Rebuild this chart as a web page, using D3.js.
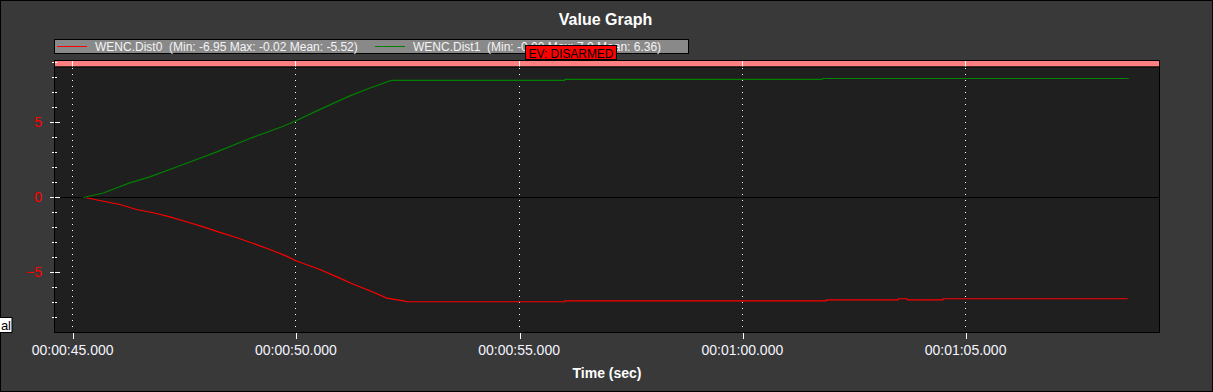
<!DOCTYPE html>
<html>
<head>
<meta charset="utf-8">
<script src="https://cdn.jsdelivr.net/npm/d3@7"></script>
<style>
  body { margin: 0; background: #393939; }
  text { font-family: "Liberation Sans", Arial, sans-serif; }
</style>
</head>
<body>
<div id="chart"></div>
<script>
// data (time in seconds)
const dist0Time = [45.32, 45.7, 46.07, 46.44, 46.82, 47.19, 47.56, 47.94, 48.31, 48.68, 49.06, 49.43, 49.8, 50.0, 50.18, 50.55, 50.93, 51.3, 51.67, 52.05, 52.42, 52.5, 56.03, 56.04, 61.89, 61.9, 63.5, 63.51, 63.7, 63.71, 64.5, 64.51, 68.64];
const dist0Value = [-0.02, -0.25, -0.47, -0.8, -1.02, -1.29, -1.62, -1.96, -2.33, -2.67, -3.07, -3.47, -3.91, -4.2, -4.4, -4.8, -5.29, -5.78, -6.22, -6.71, -6.89, -6.95, -6.95, -6.89, -6.89, -6.82, -6.82, -6.75, -6.75, -6.82, -6.82, -6.75, -6.75];

const dist1Time = [45.25, 45.7, 46.29, 46.74, 47.49, 48.24, 48.98, 49.73, 50.0, 50.48, 51.22, 51.67, 52.12, 52.16, 56.03, 56.04, 61.8, 61.81, 68.67];
const dist1Value = [0.0, 0.3, 0.97, 1.37, 2.2, 3.04, 3.93, 4.75, 5.1, 5.77, 6.77, 7.3, 7.77, 7.8, 7.8, 7.87, 7.87, 7.93, 7.93];

const legendLabels = ["WENC.Dist0  (Min: -6.95 Max: -0.02 Mean: -5.52)", "WENC.Dist1  (Min: -0.00 Max: 7.9 Mean: 6.36)"];
const seriesColors = ["#ff0000", "#008000"];
const xTickValues = [45, 50, 55, 60, 65];
const yMajorTicks = [-5, 0, 5];
const yMinorTicks = [-8, -7, -6, -4, -3, -2, -1, 1, 2, 3, 4, 6, 7, 8, 9];

const W = 1213, H = 392;
const plot = {left: 54.5, top: 60.5, right: 1159.5, bottom: 332.5};

const svg = d3.select("#chart").append("svg")
  .attr("width", W)
  .attr("height", H);

svg.append("rect")
  .attr("x", 0.5).attr("y", 0.5)
  .attr("width", W - 1).attr("height", H - 1)
  .attr("fill", "#393939")
  .attr("stroke", "#000");

const x = d3.scaleLinear().domain([44.605, 69.355]).range([plot.left, plot.right]);
const y = d3.scaleLinear().domain([-9.0, 9.13]).range([plot.bottom, plot.top]);

function fmtTime(s) {
  const h = Math.floor(s / 3600), m = Math.floor((s % 3600) / 60), sec = s % 60;
  const p = (n) => String(n).padStart(2, "0");
  return `${p(h)}:${p(m)}:${sec.toFixed(3).padStart(6, "0")}`;
}

// plot area
svg.append("rect")
  .attr("x", plot.left).attr("y", plot.top)
  .attr("width", plot.right - plot.left).attr("height", plot.bottom - plot.top)
  .attr("fill", "#1f1f1f");

// pink event band
svg.append("rect")
  .attr("x", plot.left).attr("y", plot.top)
  .attr("width", plot.right - plot.left).attr("height", 6)
  .attr("fill", "#ff8080");

// grid lines
const grid = svg.append("g").attr("shape-rendering", "crispEdges");
grid.selectAll(".gdot")
  .data(xTickValues)
  .enter().append("line")
  .attr("x1", d => Math.round(x(d)) + 0.5).attr("x2", d => Math.round(x(d)) + 0.5)
  .attr("y1", plot.top + 7).attr("y2", plot.bottom)
  .attr("stroke", "#fff")
  .attr("stroke-dasharray", "1,5");
grid.selectAll(".gband")
  .data(xTickValues)
  .enter().append("line")
  .attr("x1", d => Math.round(x(d)) + 0.5).attr("x2", d => Math.round(x(d)) + 0.5)
  .attr("y1", plot.top).attr("y2", plot.top + 6)
  .attr("stroke", "#fff");

// zero line
svg.append("line")
  .attr("x1", plot.left).attr("x2", plot.right)
  .attr("y1", Math.round(y(0)) + 0.5).attr("y2", Math.round(y(0)) + 0.5)
  .attr("stroke", "#000");

// series
const line = d3.line()
  .x(d => x(d[0]))
  .y(d => y(d[1]));

const series = [
  d3.zip(dist0Time, dist0Value),
  d3.zip(dist1Time, dist1Value)
];
svg.selectAll(".series")
  .data(series)
  .enter().append("path")
  .attr("class", "series")
  .attr("d", line)
  .attr("fill", "none")
  .attr("stroke", (d, i) => seriesColors[i])
  .attr("stroke-width", 1.2);

// band bottom edge + plot border
svg.append("line")
  .attr("x1", plot.left).attr("x2", plot.right)
  .attr("y1", plot.top + 6.5).attr("y2", plot.top + 6.5)
  .attr("stroke", "#000");
svg.append("rect")
  .attr("x", plot.left).attr("y", plot.top)
  .attr("width", plot.right - plot.left).attr("height", plot.bottom - plot.top)
  .attr("fill", "none")
  .attr("stroke", "#000");

// y axis: major ticks crossing the frame, minor ticks
const yMajor = svg.append("g")
  .attr("transform", `translate(${plot.left + 5.5},0)`)
  .attr("shape-rendering", "crispEdges")
  .call(d3.axisLeft(y).tickValues(yMajorTicks).tickSize(10).tickPadding(8).tickFormat(d3.format("d")));
yMajor.select(".domain").remove();
yMajor.selectAll(".tick").attr("transform", d => `translate(0,${Math.round(y(d)) + 0.5})`);
yMajor.selectAll("line").attr("stroke", "#fff").attr("stroke-width", 1);
yMajor.selectAll("text").attr("fill", "#ff0000").style("font-size", "14px");

const yMinor = svg.append("g")
  .attr("transform", `translate(${plot.left + 2.5},0)`)
  .attr("shape-rendering", "crispEdges")
  .call(d3.axisLeft(y).tickValues(yMinorTicks).tickSize(5).tickFormat(""));
yMinor.select(".domain").remove();
yMinor.selectAll(".tick").attr("transform", d => `translate(0,${Math.round(y(d)) + 0.5})`);
yMinor.selectAll("line").attr("stroke", "#fff").attr("stroke-width", 1);

// redraw the left edge of the plot over the ticks
svg.append("line")
  .attr("x1", plot.left).attr("x2", plot.left)
  .attr("y1", plot.top).attr("y2", plot.bottom)
  .attr("stroke", "#000");

// x axis
const xAxis = svg.append("g")
  .attr("transform", `translate(0,${plot.bottom})`)
  .call(d3.axisBottom(x).tickValues(xTickValues).tickSize(6).tickPadding(7).tickFormat(fmtTime));
xAxis.select(".domain").remove();
xAxis.selectAll(".tick line").attr("stroke", "#fff")
  .attr("shape-rendering", "crispEdges")
  .attr("transform", d => `translate(${Math.round(x(d)) + 0.5 - x(d)},0)`);
xAxis.selectAll("text").attr("fill", "#f4f4ff").style("font-size", "14px");

// titles
svg.append("text")
  .attr("x", 605.5).attr("y", 25)
  .attr("text-anchor", "middle")
  .attr("fill", "#fff")
  .style("font-size", "16px").style("font-weight", "bold")
  .text("Value Graph");

svg.append("text")
  .attr("x", 607).attr("y", 378)
  .attr("text-anchor", "middle")
  .attr("fill", "#fff")
  .style("font-size", "14px").style("font-weight", "bold")
  .text("Time (sec)");

// legend
const legend = svg.append("g");
legend.append("rect")
  .attr("x", 54.5).attr("y", 39.5)
  .attr("width", 634).attr("height", 14)
  .attr("fill", "#898989")
  .attr("stroke", "#000");
const legendX = [57, 375];
legend.selectAll(".lg-line")
  .data(legendLabels)
  .enter().append("line")
  .attr("x1", (d, i) => legendX[i]).attr("x2", (d, i) => legendX[i] + 30)
  .attr("y1", 46.5).attr("y2", 46.5)
  .attr("stroke", (d, i) => seriesColors[i]);
legend.selectAll(".lg-text")
  .data(legendLabels)
  .enter().append("text")
  .attr("x", (d, i) => legendX[i] + 38).attr("y", 50.7)
  .attr("fill", "#f4f4f4")
  .style("font-size", "12px")
  .style("white-space", "pre")
  .text(d => d);

// event marker label
svg.append("rect")
  .attr("x", 525.5).attr("y", 45.5)
  .attr("width", 91).attr("height", 14)
  .attr("fill", "#ff0000")
  .attr("stroke", "#000");
svg.append("text")
  .attr("x", 528.5).attr("y", 57.5)
  .attr("fill", "#000")
  .style("font-size", "12px")
  .attr("textLength", 85)
  .text("EV: DISARMED");

// clipped label at the left edge
svg.append("rect")
  .attr("x", -1).attr("y", 317.5)
  .attr("width", 13).attr("height", 15)
  .attr("fill", "#fff")
  .attr("stroke", "#000");
svg.append("text")
  .attr("x", 11).attr("y", 329.5)
  .attr("text-anchor", "end")
  .attr("fill", "#000")
  .style("font-size", "13px")
  .text("al");
</script>
</body>
</html>
